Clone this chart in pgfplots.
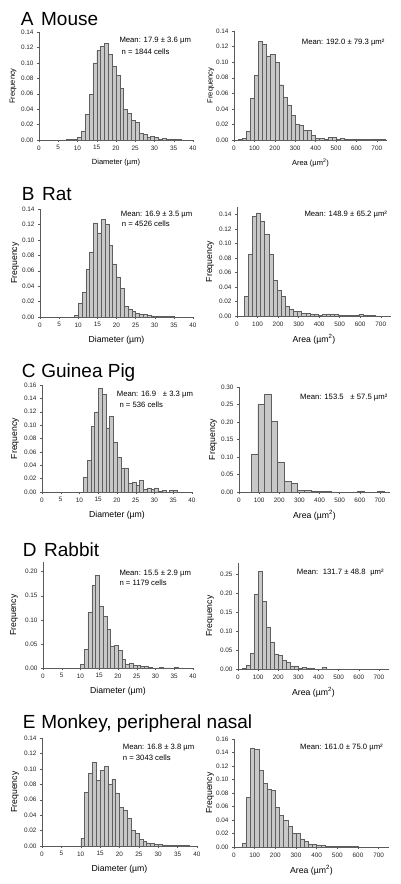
\documentclass[border=0pt]{standalone}
\usepackage{fontspec}
\setmainfont{Liberation Sans}
\usepackage{pgfplots}
\pgfplotsset{compat=1.18}
\definecolor{barfill}{RGB}{200,200,200}
\definecolor{bardraw}{RGB}{95,95,95}
\definecolor{axisgray}{RGB}{90,90,90}
\newcommand\titlefont{\fontsize{19}{22}\selectfont}
\newcommand\annfont{\fontsize{7.7}{9}\selectfont}
\pgfplotsset{
  hist/.style={
    scale only axis,
    axis lines=left,
    axis line style={-, draw=axisgray, line width=0.5pt},
    tick align=outside,
    major tick length=2pt,
    tick style={draw=axisgray, line width=0.4pt},
    xmin=0, ymin=0,
    anchor=south west,
    /pgf/number format/assume math mode=true,
    tick label style={font=\fontsize{6.4}{7}\selectfont, text=black!85},
    y tick label style={/pgf/number format/.cd, fixed, fixed zerofill, precision=2, /tikz/.cd},
    label style={font=\fontsize{8.7}{10}\selectfont},
    xlabel style={at={(axis description cs:0.5,0)}, anchor=center, yshift=-23pt},
    ylabel={Frequency},
  },
  ylpos/.style={ylabel style={at={(axis description cs:#1,0.5)}, anchor=center}},
  diam/.style={xmax=40, xtick={0,5,...,40}, xlabel={Diameter (µm)}},
  area/.style={xmax=750, xtick={0,100,...,700}, xlabel={Area (µm\textsuperscript{2})}},
  bars/.style={ybar, bar width=#1, fill=barfill, draw=bardraw, line width=0.45pt},
}
\begin{document}
\begin{tikzpicture}
\useasboundingbox (0,0) rectangle (400pt,-884pt);

% ---------------- A Mouse ----------------
\begin{axis}[hist, diam, ylpos=-0.169, at={(39pt,-140pt)}, width=154pt, height=108pt,
  ymax=0.14, ytick={0,0.02,0.04,0.06,0.08,0.10,0.12,0.14},
  label style={font=\fontsize{7.5}{9}\selectfont}]
\addplot[bars=1] coordinates {(7.5,0.0005)(8.5,0.0005)(9.5,0.0008)(10.5,0.003)(11.5,0.011)(12.5,0.033)(13.5,0.059)(14.5,0.100)(15.5,0.116)(16.5,0.122)(17.5,0.125)(18.5,0.111)(19.5,0.096)(20.5,0.084)(21.5,0.067)(22.5,0.040)(23.5,0.035)(24.5,0.025)(25.5,0.023)(26.5,0.009)(27.5,0.007)(28.5,0.0035)(29.5,0.005)(30.5,0.003)(31.5,0.0015)(32.5,0.0025)(33.5,0.0005)(34.5,0.0005)(35.5,0.0012)(36.5,0.0012)};
\end{axis}
\begin{axis}[hist, area, ylpos=-0.152, at={(234pt,-140pt)}, width=153pt, height=109pt,
  ymax=0.14, ytick={0,0.02,0.04,0.06,0.08,0.10,0.12,0.14},
  label style={font=\fontsize{7.5}{9}\selectfont}]
\addplot[bars=20] coordinates {(30,0.0005)(50,0.002)(70,0.011)(90,0.054)(110,0.083)(130,0.127)(150,0.123)(170,0.108)(190,0.110)(210,0.100)(230,0.071)(250,0.055)(270,0.045)(290,0.032)(310,0.020)(330,0.019)(350,0.012)(370,0.012)(390,0.006)(410,0.002)(430,0.002)(450,0.001)(470,0.0035)(490,0.003)(510,0.0015)(530,0.002)(550,0.001)(570,0.0005)(590,0.001)(610,0.0015)(630,0.0005)(650,0.0005)(670,0.0005)(690,0.0015)(710,0.0005)(730,0.001)};
\end{axis}

% ---------------- B Rat ----------------
\begin{axis}[hist, diam, ylpos=-0.163, at={(40pt,-317pt)}, width=153pt, height=108pt,
  ymax=0.14, ytick={0,0.02,0.04,0.06,0.08,0.10,0.12,0.14}]
\addplot[bars=1] coordinates {(9.5,0.002)(10.5,0.018)(11.5,0.032)(12.5,0.062)(13.5,0.084)(14.5,0.122)(15.5,0.109)(16.5,0.127)(17.5,0.120)(18.5,0.093)(19.5,0.069)(20.5,0.052)(21.5,0.037)(22.5,0.014)(23.5,0.010)(24.5,0.007)(25.5,0.005)(26.5,0.0035)(27.5,0.003)(28.5,0.002)(29.5,0.0015)(30.5,0.001)(31.5,0.001)(32.5,0.0008)(33.5,0.0005)(34.5,0.0005)(35.5,0.0003)};
\end{axis}
\begin{axis}[hist, area, ylpos=-0.175, at={(237pt,-316pt)}, width=154pt, height=109pt,
  ymax=0.15, ytick={0,0.02,0.04,0.06,0.08,0.10,0.12,0.14}]
\addplot[bars=20] coordinates {(45,0.027)(65,0.085)(85,0.137)(105,0.142)(125,0.130)(145,0.112)(165,0.085)(185,0.049)(205,0.035)(225,0.027)(245,0.013)(265,0.009)(285,0.007)(305,0.006)(325,0.004)(345,0.004)(365,0.002)(385,0.002)(405,0.001)(425,0.002)(445,0.003)(465,0.002)(485,0.002)(505,0.001)(525,0.001)(545,0.001)(565,0.0005)(585,0.001)(605,0.002)(625,0.0005)(645,0.0005)(665,0.0005)};
\end{axis}

% ---------------- C Guinea Pig ----------------
\begin{axis}[hist, diam, ylpos=-0.18, at={(42pt,-492pt)}, width=150pt, height=107pt,
  ymax=0.16, ytick={0,0.02,0.04,0.06,0.08,0.10,0.12,0.14,0.16}]
\addplot[bars=1] coordinates {(11.5,0.022)(12.5,0.047)(13.5,0.098)(14.5,0.120)(15.5,0.155)(16.5,0.146)(17.5,0.096)(18.5,0.113)(19.5,0.075)(20.5,0.052)(21.5,0.036)(22.5,0.036)(23.5,0.013)(24.5,0.015)(25.5,0.010)(26.5,0.017)(27.5,0.004)(28.5,0.006)(29.5,0.004)(30.5,0.006)(31.5,0.0005)(32.5,0.002)(34.5,0.002)(35.5,0.002)};
\end{axis}
\begin{axis}[hist, area, ylpos=-0.172, at={(239pt,-492pt)}, width=151pt, height=105pt,
  ymax=0.30, ytick={0,0.05,0.10,0.15,0.20,0.25,0.30}]
\addplot[bars=33] coordinates {(76.5,0.109)(109.5,0.252)(142.5,0.278)(175.5,0.202)(208.5,0.086)(241.5,0.030)(274.5,0.025)(307.5,0.005)(340.5,0.004)(373.5,0.003)(406.5,0.002)(439.5,0.001)(472.5,0.0005)(604.5,0.002)(703.5,0.002)};
\end{axis}

% ---------------- D Rabbit ----------------
\begin{axis}[hist, diam, ylpos=-0.193, at={(43pt,-668pt)}, width=150pt, height=106pt,
  ymax=0.22, ytick={0,0.05,0.10,0.15,0.20}]
\addplot[bars=1] coordinates {(10.5,0.007)(11.5,0.038)(12.5,0.116)(13.5,0.171)(14.5,0.193)(15.5,0.128)(16.5,0.107)(17.5,0.080)(18.5,0.045)(19.5,0.047)(20.5,0.037)(21.5,0.018)(22.5,0.008)(23.5,0.010)(24.5,0.006)(25.5,0.005)(26.5,0.004)(27.5,0.003)(28.5,0.0015)(29.5,0.0005)(30.5,0.0005)(31.5,0.001)(32.5,0.0005)(33.5,0.0005)(35.5,0.001)};
\end{axis}
\begin{axis}[hist, area, ylpos=-0.185, at={(238pt,-669pt)}, width=151pt, height=106pt,
  ymax=0.28, ytick={0,0.05,0.10,0.15,0.20,0.25}]
\addplot[bars=20] coordinates {(30,0.001)(50,0.010)(70,0.042)(90,0.198)(110,0.258)(130,0.178)(150,0.110)(170,0.072)(190,0.040)(210,0.036)(230,0.022)(250,0.017)(270,0.007)(290,0.008)(310,0.002)(330,0.004)(350,0.003)(370,0.001)(390,0.0005)(410,0.0005)(430,0.004)(450,0.0005)};
\end{axis}

% ---------------- E Monkey ----------------
\begin{axis}[hist, diam, ylpos=-0.174, at={(42pt,-846pt)}, width=155pt, height=108pt,
  ymax=0.14, ytick={0,0.02,0.04,0.06,0.08,0.10,0.12,0.14}]
\addplot[bars=1] coordinates {(10.5,0.010)(11.5,0.070)(12.5,0.094)(13.5,0.109)(14.5,0.085)(15.5,0.098)(16.5,0.103)(17.5,0.080)(18.5,0.087)(19.5,0.069)(20.5,0.050)(21.5,0.047)(22.5,0.036)(23.5,0.020)(24.5,0.016)(25.5,0.009)(26.5,0.006)(27.5,0.004)(28.5,0.003)(29.5,0.002)(30.5,0.002)(31.5,0.0015)(32.5,0.001)(33.5,0.0008)(34.5,0.0005)(35.5,0.0005)(36.5,0.0005)(37.5,0.0005)};
\end{axis}
\begin{axis}[hist, area, ylpos=-0.155, at={(234pt,-847pt)}, width=155pt, height=108pt,
  ymax=0.16, ytick={0,0.02,0.04,0.06,0.08,0.10,0.12,0.14,0.16}]
\addplot[bars=20] coordinates {(50,0.006)(70,0.074)(90,0.147)(110,0.145)(130,0.114)(150,0.094)(170,0.085)(190,0.084)(210,0.059)(230,0.047)(250,0.040)(270,0.031)(290,0.020)(310,0.020)(330,0.012)(350,0.008)(370,0.004)(390,0.004)(410,0.003)(430,0.002)(450,0.001)(470,0.001)(490,0.0005)(510,0.001)(530,0.0005)(550,0.0005)(570,0.0005)(590,0.0005)};
\end{axis}

% ---------------- titles ----------------
\node[anchor=base west, inner sep=0, font=\titlefont] at (20.7pt,-25pt) {A\hspace{0.4em}Mouse};
\node[anchor=base west, inner sep=0, font=\titlefont] at (21.7pt,-200pt) {B\hspace{0.4em}Rat};
\node[anchor=base west, inner sep=0, font=\titlefont] at (21.7pt,-377pt) {C\hspace{0.3em}Guinea Pig};
\node[anchor=base west, inner sep=0, font=\titlefont] at (22.7pt,-556pt) {D\hspace{0.4em}Rabbit};
\node[anchor=base west, inner sep=0, font=\titlefont] at (22.7pt,-728pt) {E\hspace{0.3em}Monkey, peripheral nasal};

% ---------------- annotations ----------------
\node[anchor=base west, inner sep=0, font=\annfont] at (119.3pt,-42.7pt) {Mean: 17.9 ± 3.6 µm};
\node[anchor=base west, inner sep=0, font=\annfont] at (121.5pt,-54.4pt) {n = 1844 cells};
\node[anchor=base west, inner sep=0, font=\annfont] at (301.7pt,-44.4pt) {Mean: 192.0 ± 79.3 µm²};

\node[anchor=base west, inner sep=0, font=\annfont] at (120.7pt,-216pt) {Mean: 16.9 ± 3.5 µm};
\node[anchor=base west, inner sep=0, font=\annfont] at (121.7pt,-226.5pt) {n = 4526 cells};
\node[anchor=base west, inner sep=0, font=\annfont] at (304.3pt,-216pt) {Mean: 148.9 ± 65.2 µm²};

\node[anchor=base west, inner sep=0, font=\annfont] at (116.7pt,-396pt) {Mean: 16.9\hspace{0.6em} ± 3.3 µm};
\node[anchor=base west, inner sep=0, font=\annfont] at (119.3pt,-407.7pt) {n = 536 cells};
\node[anchor=base west, inner sep=0, font=\annfont] at (300pt,-399.4pt) {Mean: 153.5\hspace{0.6em} ± 57.5 µm²};

\node[anchor=base west, inner sep=0, font=\annfont] at (119.3pt,-575pt) {Mean: 15.5 ± 2.9 µm};
\node[anchor=base west, inner sep=0, font=\annfont] at (119.3pt,-585pt) {n = 1179 cells};
\node[anchor=base west, inner sep=0, font=\annfont] at (296.7pt,-574.4pt) {Mean:\hspace{0.6em}131.7 ± 48.8\hspace{0.6em}µm²};

\node[anchor=base west, inner sep=0, font=\annfont] at (122.7pt,-749.4pt) {Mean: 16.8 ± 3.8 µm};
\node[anchor=base west, inner sep=0, font=\annfont] at (122.7pt,-760pt) {n = 3043 cells};
\node[anchor=base west, inner sep=0, font=\annfont] at (300pt,-749.4pt) {Mean: 161.0 ± 75.0 µm²};
\end{tikzpicture}
\end{document}
